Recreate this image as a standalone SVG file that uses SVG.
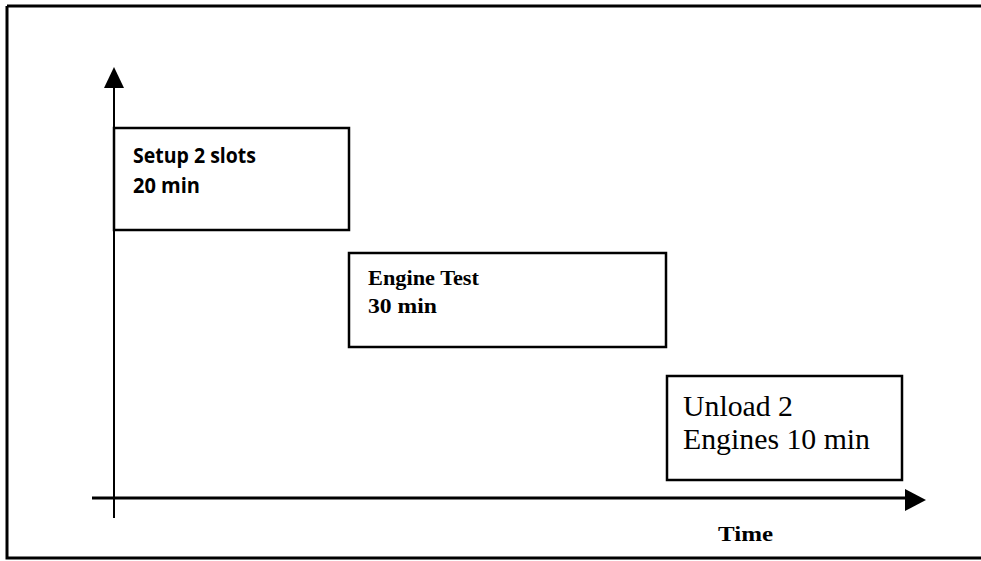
<svg xmlns="http://www.w3.org/2000/svg" width="981" height="561" viewBox="0 0 981 561">
<style>
.box{fill:#fff;stroke:#000;stroke-width:2.5}
.ax{stroke:#000;fill:none}
.b{font-family:"Open Sans","Noto Sans","Liberation Sans",sans-serif;font-weight:bold;font-size:21px;fill:#000}
.s{font-family:"Liberation Serif","Times New Roman",serif;font-weight:bold;font-size:21px;fill:#000}
.r{font-family:"Liberation Serif","Times New Roman",serif;font-size:30px;fill:#000}
</style>
<rect width="981" height="561" fill="#fff"/>
<g id="frame" fill="none" stroke="#000">
<path d="M7,6 H981" stroke-width="3"/>
<path d="M7,6 V558 H981" stroke-width="3"/>
</g>
<g id="connectors">
<path class="ax" d="M114,85 V518" stroke-width="2"/>
<polygon points="114,67 104,88 124,88" fill="#000"/>
<path class="ax" d="M92,498 H908" stroke-width="3"/>
<polygon points="926,500 905,489 905,511" fill="#000"/>
</g>
<g id="setup">
<rect class="box" x="114" y="128" width="235" height="102"/>
<text class="b" x="133" y="163" textLength="123" lengthAdjust="spacingAndGlyphs">Setup 2 slots</text>
<text class="b" x="133" y="193" textLength="67" lengthAdjust="spacingAndGlyphs">20 min</text>
</g>
<g id="test">
<rect class="box" x="349" y="253" width="317" height="94"/>
<text class="s" x="368" y="285" textLength="111" lengthAdjust="spacingAndGlyphs">Engine Test</text>
<text class="s" x="368" y="313" textLength="69" lengthAdjust="spacingAndGlyphs">30 min</text>
</g>
<g id="unload">
<rect class="box" x="667" y="376" width="235" height="104"/>
<text class="r" x="683" y="416" textLength="110" lengthAdjust="spacingAndGlyphs">Unload 2</text>
<text class="r" x="683" y="449" textLength="187" lengthAdjust="spacingAndGlyphs">Engines 10 min</text>
</g>
<g id="time-label">
<text class="s" x="718" y="541" textLength="55" lengthAdjust="spacingAndGlyphs">Time</text>
</g>
</svg>
